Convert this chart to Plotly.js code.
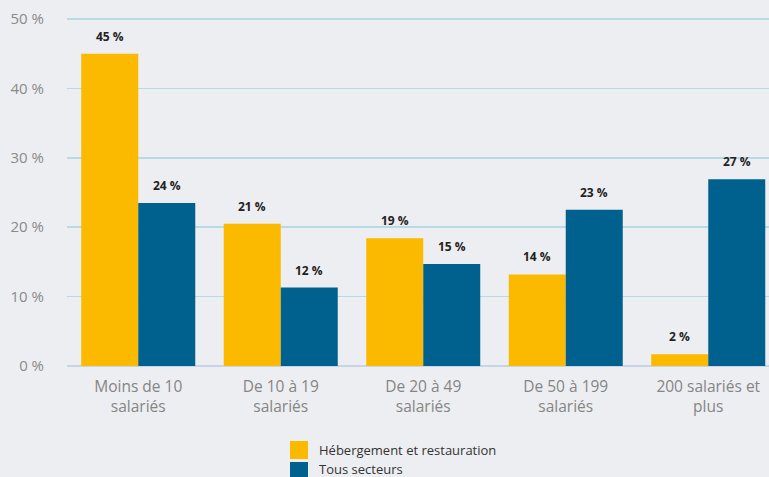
<!DOCTYPE html>
<html>
<head>
<meta charset="utf-8">
<script src="https://cdn.plot.ly/plotly-3.0.1.min.js"></script>
<style>html,body{margin:0;padding:0;background:#edeef1;}#chart{width:769px;height:477px;}</style>
</head>
<body>
<div id="chart"></div>
<script>
const categories = ["Moins de 10<br>salariés", "De 10 à 19<br>salariés", "De 20 à 49<br>salariés", "De 50 à 199<br>salariés", "200 salariés et<br>plus"];
const seriesNames = ["Hébergement et restauration", "Tous secteurs"];
const hebergement = [45.0, 20.5, 18.4, 13.2, 1.7];
const tousSecteurs = [23.5, 11.3, 14.7, 22.5, 26.9];
const hebergementLabels = ["45 %", "21 %", "19 %", "14 %", "2 %"];
const tousSecteursLabels = ["24 %", "12 %", "15 %", "23 %", "27 %"];
const yTickVals = [0, 10, 20, 30, 40, 50];
const yTickText = ["0 %", "10 %", "20 %", "30 %", "40 %", "50 %"];
const colors = ["#fbb900", "#00618f"];

const W = 769, H = 477, L = 67, T = 12, B = 111;
const plotW = W - L, plotH = H - T - B;
const pxX = px => (px - L) / plotW;
const pxY = py => (H - B - py) / plotH;

const traces = [
  {type: "bar", name: seriesNames[0], x: categories, y: hebergement, marker: {color: colors[0]}, hoverinfo: "none"},
  {type: "bar", name: seriesNames[1], x: categories, y: tousSecteurs, marker: {color: colors[1]}, hoverinfo: "none"}
];

const annotations = [];
const labelFont = {family: "Open Sans", size: 12, color: "#222222", weight: 700};
const halfBar = 28.5;
categories.forEach((c, i) => {
  annotations.push({x: c, y: hebergement[i], xref: "x", yref: "y", text: "<b>" + hebergementLabels[i] + "</b>", showarrow: false, yanchor: "bottom", xshift: -halfBar, yshift: 7, font: labelFont});
  annotations.push({x: c, y: tousSecteurs[i], xref: "x", yref: "y", text: "<b>" + tousSecteursLabels[i] + "</b>", showarrow: false, yanchor: "bottom", xshift: halfBar, yshift: 7, font: labelFont});
});

// custom legend
const legendRows = [450, 469];
const shapes = [];
seriesNames.forEach((n, i) => {
  shapes.push({type: "rect", xref: "paper", yref: "paper", xsizemode: "pixel", ysizemode: "pixel",
    xanchor: pxX(290), yanchor: pxY(legendRows[i] + (i === 1 ? 2 : 0)), x0: 0, x1: 18, y0: -9, y1: 9,
    fillcolor: colors[i], line: {width: 0}});
  annotations.push({xref: "paper", yref: "paper", x: pxX(317), y: pxY(legendRows[i]), xanchor: "left", yanchor: "middle",
    text: n, showarrow: false, font: {family: "Open Sans", size: 13, color: "#333333"}});
});

const layout = {
  width: W, height: H,
  margin: {l: L, r: 0, t: T, b: B, pad: 0},
  paper_bgcolor: "#edeef1",
  plot_bgcolor: "#edeef1",
  barmode: "group",
  bargap: 0.2,
  bargroupgap: 0,
  showlegend: false,
  xaxis: {
    type: "category",
    range: [-0.5, -0.5 + plotW / 142.5],
    showgrid: false,
    zeroline: false,
    showline: false,
    ticks: "",
    tickfont: {family: "Open Sans", size: 15.5, color: "#858585"},
    ticklabelstandoff: 9,
    fixedrange: true
  },
  yaxis: {
    range: [0, 51],
    tickvals: yTickVals,
    ticktext: yTickText,
    showgrid: true,
    gridcolor: "#b7dbe6",
    gridwidth: 1.5,
    zeroline: true,
    zerolinecolor: "#c8d5e8",
    zerolinewidth: 1.5,
    showline: false,
    ticks: "",
    tickfont: {family: "Open Sans", size: 15, color: "#8a8a8a"},
    ticklabelstandoff: 22,
    fixedrange: true
  },
  shapes: shapes,
  annotations: annotations
};

Plotly.newPlot("chart", traces, layout, {displayModeBar: false, staticPlot: true});
</script>
</body>
</html>
